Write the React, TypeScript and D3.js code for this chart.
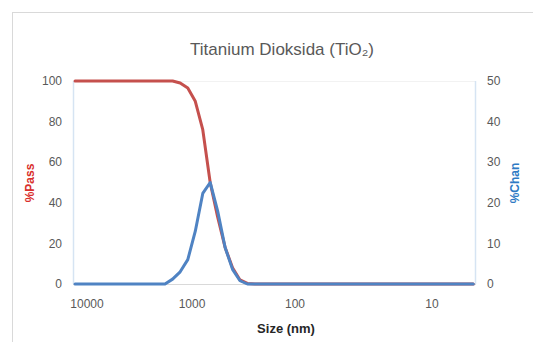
import React from "react";
import * as d3 from "d3";

// ---- data ----
const title = "Titanium Dioksida (TiO₂)";
const sizesNm = [13000, 1807, 1530, 1296, 1097, 929, 786, 666, 564, 477, 404, 342, 290, 245, 5];
const passPct = [100, 100, 100, 99, 96.5, 90, 76, 50, 33, 18, 8, 2, 0.3, 0, 0];
const chanPct = [0, 0, 1.2, 3, 6, 13, 22.3, 25, 18, 9, 3.6, 0.8, 0, 0, 0];
const xTickValues = [10000, 1000, 100, 10];
const leftTicks = [0, 20, 40, 60, 80, 100];
const rightTicks = [0, 10, 20, 30, 40, 50];

// ---- layout ----
const W = 533;
const H = 342;
const plot = { left: 73, right: 476, top: 81, bottom: 284 };
const FONT = "'Liberation Sans', Arial, sans-serif";
const RED = "#c5504d";
const BLUE = "#4f83c3";
const TEXT = "#595959";

export default function App() {
  // reversed size axis: piecewise log scale matched to the axis labels
  const x = d3
    .scaleLog()
    .domain([10000, 1000, 100, 10])
    .range([87, 192, 295, 432]);
  const yL = d3.scaleLinear().domain([0, 100]).range([plot.bottom, plot.top]);
  const yR = d3.scaleLinear().domain([0, 50]).range([plot.bottom, plot.top]);

  const passLine = d3
    .line<number>()
    .x((_, i) => x(sizesNm[i]))
    .y((d) => yL(d));
  const chanLine = d3
    .line<number>()
    .x((_, i) => x(sizesNm[i]))
    .y((d) => yR(d));

  return (
    <svg
      width={W}
      height={H}
      style={{ position: "absolute", left: 0, top: 0, background: "#fff" }}
      fontFamily={FONT}
    >
      <rect x={0} y={0} width={W} height={H} fill="#fff" />
      <rect x={12.5} y={12.5} width={W + 20} height={H + 20} fill="none" stroke="#d9d9d9" strokeWidth={1} />

      <text x={282} y={55} textAnchor="middle" fontSize={17} fill={TEXT}>
        {title}
      </text>

      {/* plot frame */}
      <line x1={plot.left} x2={plot.right} y1={plot.top + 0.5} y2={plot.top + 0.5} stroke="#f2f2f2" />
      <line x1={plot.left + 0.5} x2={plot.left + 0.5} y1={plot.top} y2={plot.bottom} stroke="#d6e4f3" strokeWidth={1.5} />
      <line x1={plot.right - 0.5} x2={plot.right - 0.5} y1={plot.top} y2={plot.bottom} stroke="#d6e4f3" strokeWidth={1.5} />
      <line x1={plot.left} x2={plot.right} y1={plot.bottom + 0.5} y2={plot.bottom + 0.5} stroke="#d9d9d9" />

      {/* left ticks */}
      {leftTicks.map((t) => (
        <text key={"l" + t} x={62} y={yL(t)} dy="0.35em" textAnchor="end" fontSize={12} fill={TEXT}>
          {t}
        </text>
      ))}
      {/* right ticks */}
      {rightTicks.map((t) => (
        <text key={"r" + t} x={487} y={yR(t)} dy="0.35em" textAnchor="start" fontSize={12} fill={TEXT}>
          {t}
        </text>
      ))}
      {/* x ticks */}
      {xTickValues.map((t) => (
        <text key={"x" + t} x={x(t)} y={304} dy="0.35em" textAnchor="middle" fontSize={12} fill={TEXT}>
          {t}
        </text>
      ))}

      {/* axis titles */}
      <text
        transform={`translate(34,183) rotate(-90)`}
        textAnchor="middle"
        fontSize={12}
        fontWeight="bold"
        fill="#d9302c"
      >
        %Pass
      </text>
      <text
        transform={`translate(519,183) rotate(-90)`}
        textAnchor="middle"
        fontSize={12}
        fontWeight="bold"
        fill="#2e7ac4"
      >
        %Chan
      </text>
      <text x={286} y={328} dy="0.35em" textAnchor="middle" fontSize={13} fontWeight="bold" fill="#262626">
        Size (nm)
      </text>

      {/* series */}
      <path d={passLine(passPct) || ""} fill="none" stroke={RED} strokeWidth={3} strokeLinejoin="round" strokeLinecap="round" />
      <path d={chanLine(chanPct) || ""} fill="none" stroke={BLUE} strokeWidth={3} strokeLinejoin="round" strokeLinecap="round" />
    </svg>
  );
}
